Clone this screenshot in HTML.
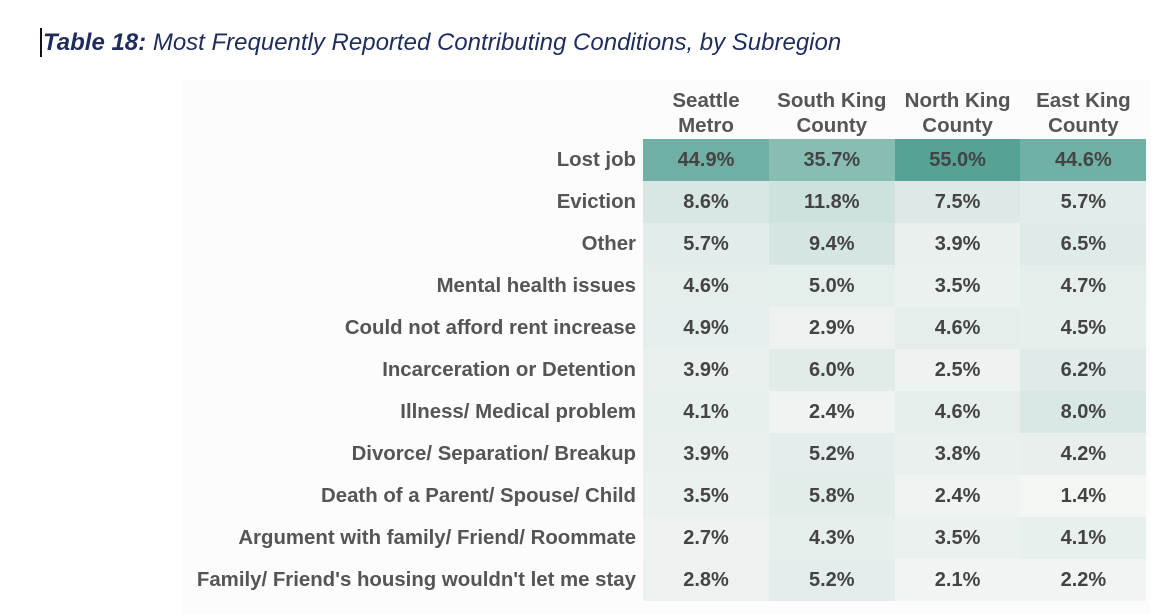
<!DOCTYPE html>
<html><head><meta charset="utf-8"><style>
body{margin:0;width:1174px;height:614px;background:#fff;position:relative;overflow:hidden;font-family:"Liberation Sans",sans-serif}
#title{position:absolute;left:43px;top:29px;font-size:24px;font-style:italic;color:#1f2d5c;white-space:nowrap}
#cursor{position:absolute;left:40px;top:28px;width:2px;height:29px;background:#111}
#panel{position:absolute;left:183px;top:80px;width:967px;height:534px;background:#fcfcfc}
.h{position:absolute;top:88px;width:126px;text-align:center;font-weight:bold;font-size:20.5px;line-height:25px;color:#555}
.lbl{position:absolute;left:100px;width:536px;text-align:right;font-weight:bold;font-size:20.4px;color:#555;height:42px;line-height:42px}
.c{position:absolute;width:126px;height:42px;line-height:42px;text-align:center;font-weight:bold;font-size:20px;color:#444}
</style></head><body>
<div id="cursor"></div>
<div id="title"><b>Table 18:</b> Most Frequently Reported Contributing Conditions, by Subregion</div>
<div id="panel"></div>
<div id="tbl"></div>
<script>
const regions=["Seattle<br>Metro","South King<br>County","North King<br>County","East King<br>County"];
const conditions=["Lost job","Eviction","Other","Mental health issues","Could not afford rent increase","Incarceration or Detention","Illness/ Medical problem","Divorce/ Separation/ Breakup","Death of a Parent/ Spouse/ Child","Argument with family/ Friend/ Roommate","Family/ Friend's housing wouldn't let me stay"];
const seattle=[44.9,8.6,5.7,4.6,4.9,3.9,4.1,3.9,3.5,2.7,2.8];
const south=[35.7,11.8,9.4,5.0,2.9,6.0,2.4,5.2,5.8,4.3,5.2];
const north=[55.0,7.5,3.9,3.5,4.6,2.5,4.6,3.8,2.4,3.5,2.1];
const east=[44.6,5.7,6.5,4.7,4.5,6.2,8.0,4.2,1.4,4.1,2.2];
const series=[seattle,south,north,east];
const tbl=document.getElementById('tbl');
const x0=643,cw=125.8,y0=139,rh=42;
function color(v){const t=Math.pow(Math.min(1,Math.max(0,(v-1)/54)),0.85);const a=[246,247,246],b=[86,162,148];
return 'rgb('+a.map((c,i)=>Math.round(c+(b[i]-c)*t)).join(',')+')';}
regions.forEach((r,i)=>{const d=document.createElement('div');d.className='h';d.style.left=(x0+i*cw)+'px';d.innerHTML=r;


tbl.appendChild(d);});
conditions.forEach((c,j)=>{const l=document.createElement('div');l.className='lbl';l.style.top=(y0+j*rh)+'px';l.textContent=c;


tbl.appendChild(l);
series.forEach((s,i)=>{const e=document.createElement('div');e.className='c';e.style.left=(x0+i*cw)+'px';e.style.top=(y0+j*rh)+'px';
e.style.background=color(s[j]);e.textContent=s[j].toFixed(1)+'%';


tbl.appendChild(e);});});
</script>
</body></html>
